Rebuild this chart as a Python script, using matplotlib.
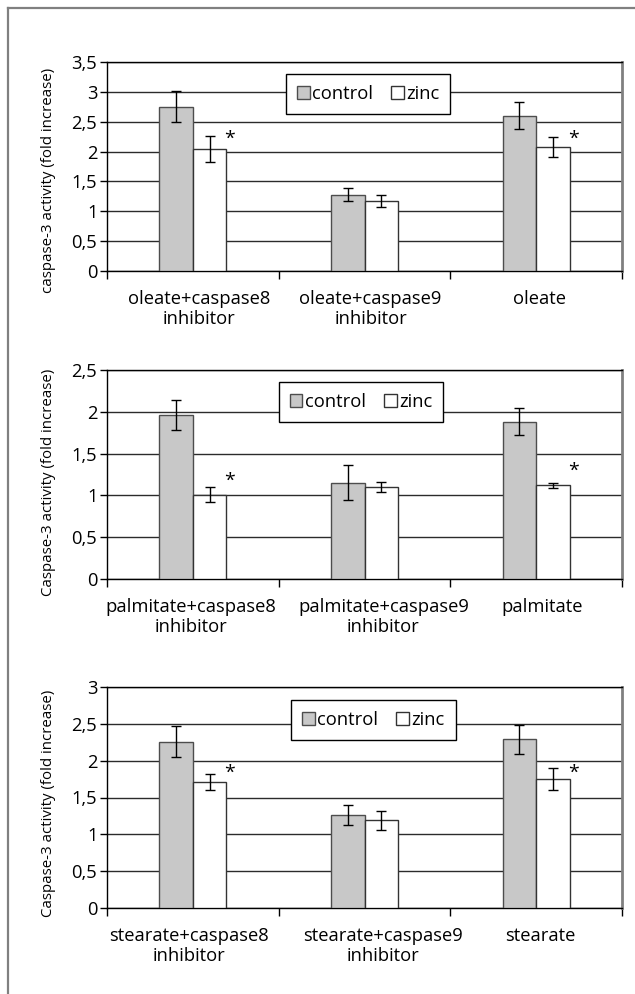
import matplotlib.pyplot as plt
from matplotlib.lines import Line2D
from matplotlib.transforms import ScaledTranslation
import numpy as np

plt.rcParams['font.family'] = ['Open Sans', 'DejaVu Sans']

# data
cats_oleate = ['oleate+caspase8\ninhibitor', 'oleate+caspase9\ninhibitor', 'oleate']
cats_palm = ['palmitate+caspase8\ninhibitor', 'palmitate+caspase9\ninhibitor', 'palmitate']
cats_stear = ['stearate+caspase8\ninhibitor', 'stearate+caspase9\ninhibitor', 'stearate']

control_oleate = [2.75, 1.28, 2.60]
control_oleate_err = [0.26, 0.11, 0.23]
zinc_oleate = [2.04, 1.18, 2.08]
zinc_oleate_err = [0.22, 0.10, 0.17]
star_oleate = [2.21, None, 2.21]

control_palm = [1.96, 1.15, 1.88]
control_palm_err = [0.18, 0.21, 0.16]
zinc_palm = [1.01, 1.10, 1.12]
zinc_palm_err = [0.09, 0.06, 0.03]
star_palm = [1.17, None, 1.29]

control_stear = [2.26, 1.26, 2.29]
control_stear_err = [0.21, 0.14, 0.20]
zinc_stear = [1.71, 1.19, 1.75]
zinc_stear_err = [0.11, 0.13, 0.15]
star_stear = [1.83, None, 1.83]

yticks_oleate = [0, 0.5, 1, 1.5, 2, 2.5, 3, 3.5]
yticks_palm = [0, 0.5, 1, 1.5, 2, 2.5]
yticks_stear = [0, 0.5, 1, 1.5, 2, 2.5, 3]

ylabel_oleate = 'caspase-3 activity (fold increase)'
ylabel_other = 'Caspase-3 activity (fold increase)'

fig = plt.figure(figsize=(6.35, 9.94), dpi=100)

# outer frame (left and top only)
fig.add_artist(Line2D([8/635, 8/635], [0, 1 - 8/994], color='#808080', lw=1.6))
fig.add_artist(Line2D([8/635, 1], [1 - 8/994, 1 - 8/994], color='#808080', lw=1.6))

W = 0.195
FS = 13.2


def panel(rect, cats, ctrl, ctrl_err, zinc, zinc_err, stars, yticks, ylabel,
          leg_x, leg_y, ylab_y, lab_dx):
    ax = fig.add_axes(rect)
    x = np.arange(len(cats))
    ax.bar(x - W/2, ctrl, W, color='#c8c8c8', edgecolor='#4d4d4d', lw=1, zorder=3)
    ax.bar(x + W/2, zinc, W, color='white', edgecolor='#333333', lw=1, zorder=3)
    ax.errorbar(x - W/2, ctrl, yerr=ctrl_err, fmt='none', ecolor='black',
                elinewidth=1, capsize=3.5, capthick=1, zorder=4)
    ax.errorbar(x + W/2, zinc, yerr=zinc_err, fmt='none', ecolor='black',
                elinewidth=1, capsize=3.5, capthick=1, zorder=4)
    for xi, s in zip(x, stars):
        if s is not None:
            ax.text(xi + W + 0.02, s, '*', ha='center', va='center', fontsize=14, zorder=5)

    ax.set_xlim(-0.5, len(cats) - 0.5)
    ax.set_ylim(yticks[0], yticks[-1])
    ax.set_yticks(yticks)
    ax.set_yticklabels([('%g' % t).replace('.', ',') for t in yticks], fontsize=FS)
    ax.yaxis.grid(True, color='#2b2b2b', lw=1)
    ax.set_axisbelow(True)
    ax.tick_params(axis='y', direction='out', length=5, width=1, pad=2)

    # category labels (Excel places them a little off centre)
    ax.set_xticks([])
    ax.set_xticks(np.arange(len(cats) + 1) - 0.5, minor=True)
    ax.tick_params(axis='x', which='minor', direction='out', length=6, width=1)
    for xi, c, dx in zip(x, cats, lab_dx):
        tr = ax.get_xaxis_transform() + ScaledTranslation(dx / 100, -19 / 100, fig.dpi_scale_trans)
        ax.text(xi, 0, c, transform=tr, ha='center', va='top', fontsize=FS,
                linespacing=1.12, multialignment='center')

    for s in ['left', 'bottom', 'top']:
        ax.spines[s].set_color('black')
        ax.spines[s].set_linewidth(1)
    ax.spines['right'].set_color('#808080')
    ax.spines['right'].set_linewidth(2)

    ax.set_ylabel(ylabel, fontsize=10.8)
    ax.yaxis.set_label_coords(-51 / 515, ylab_y)

    leg = ax.legend(['control', 'zinc'], loc='upper center', bbox_to_anchor=(leg_x, leg_y),
                    ncol=2, fontsize=FS, frameon=True, fancybox=False, framealpha=1,
                    edgecolor='black', handlelength=0.7, handleheight=0.7,
                    handletextpad=0.12, columnspacing=1.0, borderpad=0.6)
    leg.get_frame().set_linewidth(1)
    return ax


panel([107/635, 1 - 271/994, 515/635, 209/994], cats_oleate, control_oleate, control_oleate_err,
      zinc_oleate, zinc_oleate_err, star_oleate, yticks_oleate, ylabel_oleate,
      0.507, 0.986, 0.433, [6, 6, 3])
panel([107/635, 1 - 579/994, 515/635, 209/994], cats_palm, control_palm, control_palm_err,
      zinc_palm, zinc_palm_err, star_palm, yticks_palm, ylabel_other,
      0.493, 0.986, 0.464, [-2, 19, 6])
panel([107/635, 1 - 908/994, 515/635, 221/994], cats_stear, control_stear, control_stear_err,
      zinc_stear, zinc_stear_err, star_stear, yticks_stear, ylabel_other,
      0.517, 0.982, 0.475, [-4, 18, 4])

fig.savefig('out.png', dpi=100)
